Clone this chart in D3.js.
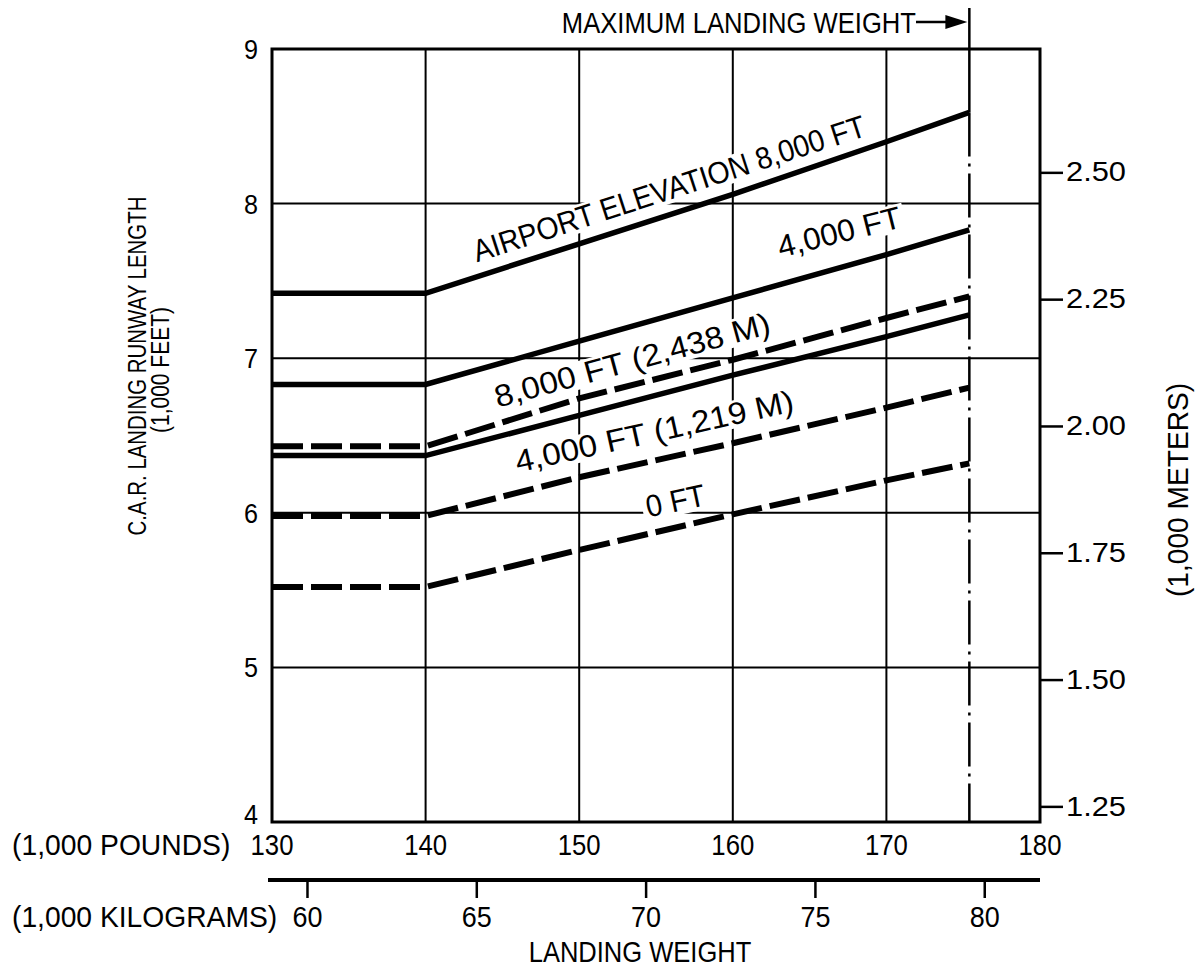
<!DOCTYPE html>
<html>
<head>
<meta charset="utf-8">
<script src="https://cdn.jsdelivr.net/npm/d3@7"></script>
<style>
  body { margin: 0; background: #fff; }
  text { font-family: "Liberation Sans Narrow", "Liberation Sans", sans-serif; fill: #000; }
</style>
</head>
<body>
<div class="chart"></div>
<script>
var svgWidth = 1197;
var svgHeight = 972;

// landing weight (1,000 lb) where the curves are read
var weights = [130, 140, 150, 160, 170, 175.4];
var maxLanding = 175.4;

// runway length (1,000 ft)
var solid8000 = [7.42, 7.42, 7.74, 8.06, 8.40, 8.59];
var solid4000 = [6.83, 6.83, 7.11, 7.39, 7.67, 7.83];
var solid0 = [6.37, 6.37, 6.63, 6.89, 7.14, 7.28];
var dashed8000 = [6.43, 6.43, 6.74, 6.99, 7.26, 7.40];
var dashed4000 = [5.98, 5.98, 6.23, 6.45, 6.68, 6.81];
var dashed0 = [5.52, 5.52, 5.76, 5.99, 6.21, 6.32];

var lbTicks = [130, 140, 150, 160, 170, 180];
var kgTicks = [60, 65, 70, 75, 80];
var ftTicks = [4, 5, 6, 7, 8, 9];
var mTicks = [1.25, 1.50, 1.75, 2.00, 2.25, 2.50];

// curve labels: text, weight, length, angle
var labelText = ["AIRPORT ELEVATION 8,000 FT", "4,000 FT", "8,000 FT (2,438 M)", "4,000 FT (1,219 M)", "0 FT"];
var labelX = [143.35, 163.1, 144.7, 146.0, 154.5];
var labelY = [7.62, 7.65, 6.68, 6.26, 5.97];
var labelAngle = [-18, -14, -15.2, -12.5, -12];

var svg = d3.select(".chart")
  .append("svg")
  .attr("width", svgWidth)
  .attr("height", svgHeight);

var x = d3.scaleLinear().domain([130, 180]).range([272, 1040]);
var y = d3.scaleLinear().domain([4, 9]).range([822, 49]);
// secondary scales by unit conversion
var xKg = d3.scaleLinear().domain([130 / 2.20462, 180 / 2.20462]).range([272, 1040]);
var yM = d3.scaleLinear().domain([4 * 0.3048, 9 * 0.3048]).range([822, 49]);

// condensed lettering: force text length per character
function letter(sel, s, size, charW) {
  return sel.text(s)
    .attr("font-size", size)
    .attr("textLength", s.length * charW)
    .attr("lengthAdjust", "spacingAndGlyphs");
}

// grid
var grid = svg.append("g").attr("stroke", "#000").attr("fill", "none");
grid.selectAll(".v")
  .data([140, 150, 160, 170])
  .enter().append("line")
  .attr("x1", d => x(d)).attr("x2", d => x(d))
  .attr("y1", y(9)).attr("y2", y(4))
  .attr("stroke-width", 2);
grid.selectAll(".h")
  .data([5, 6, 7, 8])
  .enter().append("line")
  .attr("x1", x(130)).attr("x2", x(180))
  .attr("y1", d => y(d)).attr("y2", d => y(d))
  .attr("stroke-width", 2);

// labels on curves (with white backing that breaks the grid)
labelText.forEach(function(s, i) {
  var g = svg.append("g")
    .attr("transform", `translate(${x(labelX[i])},${y(labelY[i])}) rotate(${labelAngle[i]})`);
  var bg = g.append("rect").attr("fill", "#fff");
  var t = letter(g.append("text"), s, 31, s.length > 4 ? 15.8 : 15);
  var b = t.node().getBBox();
  bg.attr("x", b.x - 4).attr("y", b.y + 4).attr("width", b.width + 8).attr("height", b.height - 7);
  t.raise();
});

// frame
svg.append("rect")
  .attr("x", x(130)).attr("y", y(9))
  .attr("width", x(180) - x(130)).attr("height", y(4) - y(9))
  .attr("fill", "none").attr("stroke", "#000").attr("stroke-width", 3);

// maximum landing weight marker
svg.append("line")
  .attr("x1", x(maxLanding)).attr("x2", x(maxLanding))
  .attr("y1", 8).attr("y2", y(solid8000[solid8000.length - 1]))
  .attr("stroke", "#000").attr("stroke-width", 2.5);
svg.append("line")
  .attr("x1", x(maxLanding)).attr("x2", x(maxLanding))
  .attr("y1", y(solid8000[solid8000.length - 1])).attr("y2", y(4))
  .attr("stroke", "#000").attr("stroke-width", 2.5)
  .attr("stroke-dasharray", "44,7,3,7");
letter(svg.append("text"), "MAXIMUM LANDING WEIGHT", 30, 16.1)
  .attr("x", 916).attr("y", 33).attr("text-anchor", "end");
svg.append("line")
  .attr("x1", 916).attr("x2", 950).attr("y1", 22).attr("y2", 22)
  .attr("stroke", "#000").attr("stroke-width", 2.5);
svg.append("path")
  .attr("d", `M${x(maxLanding) - 2},22 L${x(maxLanding) - 24},15 L${x(maxLanding) - 24},29 Z`)
  .attr("fill", "#000");

// curves
var line = d3.line()
  .x((d, i) => x(weights[i]))
  .y(d => y(d));

[solid8000, solid4000, solid0].forEach(function(s) {
  svg.append("path")
    .attr("d", line(s))
    .attr("fill", "none").attr("stroke", "#000")
    .attr("stroke-width", 5.5);
});
[dashed8000, dashed4000, dashed0].forEach(function(s) {
  svg.append("path")
    .attr("d", line(s))
    .attr("fill", "none").attr("stroke", "#000")
    .attr("stroke-width", 6)
    .attr("stroke-dasharray", "31,8");
});

// left axis (feet)
svg.selectAll(".ft")
  .data(ftTicks)
  .enter().append("text")
  .each(function(d) { letter(d3.select(this), String(d), 28, 14); })
  .attr("x", 258)
  .attr("y", d => d === 4 ? y(d) - 8 : y(d))
  .attr("dy", "0.36em")
  .attr("text-anchor", "end");

// right axis (meters)
var rightAxis = d3.axisRight(yM)
  .tickValues(mTicks)
  .tickSize(23)
  .tickPadding(3)
  .tickFormat(d3.format(".2f"));
var ra = svg.append("g")
  .attr("transform", `translate(${x(180)},0)`)
  .call(rightAxis);
ra.select(".domain").remove();
ra.selectAll(".tick line").attr("stroke", "#000").attr("stroke-width", 2.5);
ra.selectAll(".tick text")
  .each(function(d) { letter(d3.select(this), d3.format(".2f")(d), 27, 15); })
  .attr("font-family", null);

// bottom pounds labels
svg.selectAll(".lb")
  .data(lbTicks)
  .enter().append("text")
  .each(function(d) { letter(d3.select(this), String(d), 29, 14.3); })
  .attr("x", d => x(d))
  .attr("y", 855)
  .attr("text-anchor", "middle");
letter(svg.append("text"), "(1,000 POUNDS)", 30, 15.6)
  .attr("x", 12).attr("y", 855);

// kilogram axis
var kgAxis = d3.axisBottom(xKg)
  .tickValues(kgTicks)
  .tickSize(18)
  .tickPadding(6);
var ka = svg.append("g")
  .attr("transform", "translate(0,880)")
  .call(kgAxis);
ka.select(".domain").remove();
ka.selectAll(".tick line").attr("stroke", "#000").attr("stroke-width", 2.5);
ka.selectAll(".tick text")
  .each(function(d) { letter(d3.select(this), String(d), 29, 15); })
  .attr("y", 47).attr("dy", null);
svg.append("line")
  .attr("x1", 268).attr("x2", x(180))
  .attr("y1", 880).attr("y2", 880)
  .attr("stroke", "#000").attr("stroke-width", 4);
letter(svg.append("text"), "(1,000 KILOGRAMS)", 30, 15.6)
  .attr("x", 12).attr("y", 927);

letter(svg.append("text"), "LANDING WEIGHT", 30, 15.9)
  .attr("x", 640).attr("y", 962).attr("text-anchor", "middle");

// axis titles
letter(svg.append("text"), "C.A.R. LANDING RUNWAY LENGTH", 25, 12.1)
  .attr("transform", "translate(146,366) rotate(-90)")
  .attr("text-anchor", "middle");
letter(svg.append("text"), "(1,000 FEET)", 25, 10.5)
  .attr("transform", "translate(169,370) rotate(-90)")
  .attr("text-anchor", "middle");
letter(svg.append("text"), "(1,000 METERS)", 30, 15.3)
  .attr("transform", "translate(1188,490) rotate(-90)")
  .attr("text-anchor", "middle");
</script>
</body>
</html>
